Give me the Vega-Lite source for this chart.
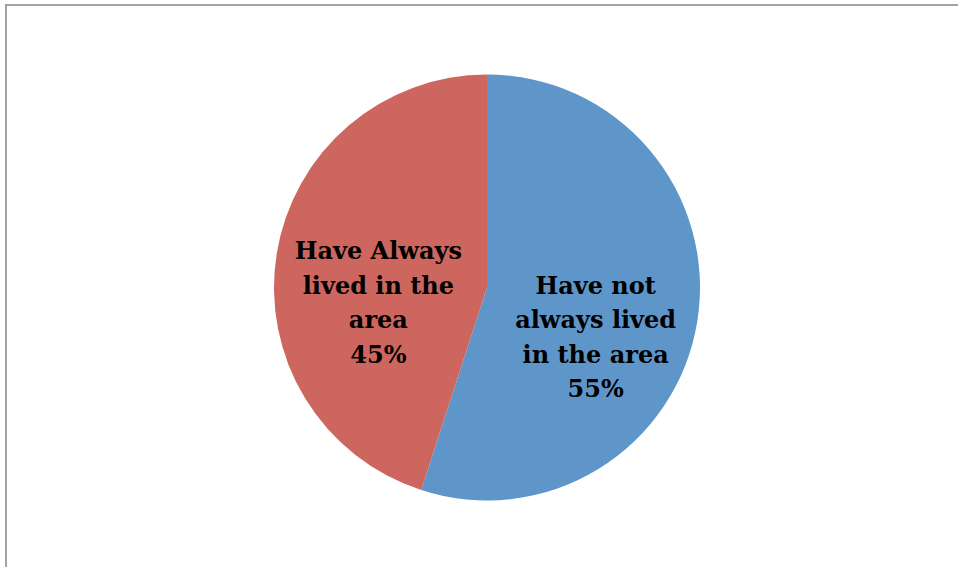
{
  "$schema": "https://vega.github.io/schema/vega-lite/v6.json",
  "width": 962,
  "height": 565,
  "autosize": {"type": "none"},
  "padding": {"left": 6, "top": 5, "right": 0, "bottom": 0},
  "background": "white",
  "config": {"view": {"stroke": null}},
  "data": {
    "values": [
      {"category": "Have not always lived in the area", "share": 55, "label": "Have not\nalways lived\nin the area\n55%"},
      {"category": "Have Always lived in the area", "share": 45, "label": "Have Always\nlived in the\narea\n45%"}
    ]
  },
  "layer": [
    {
      "data": {"values": [{"frame": 1}]},
      "mark": {"type": "rect", "fill": null, "stroke": "#a3a3a3", "strokeWidth": 2},
      "encoding": {}
    },
    {
      "mark": {"type": "arc", "outerRadius": 213},
      "encoding": {
        "theta": {"field": "share", "type": "quantitative", "stack": true},
        "order": {"field": "share", "type": "quantitative", "sort": "descending"},
        "color": {
          "field": "category",
          "type": "nominal",
          "scale": {"domain": ["Have not always lived in the area", "Have Always lived in the area"], "range": ["#5f96ca", "#cd665e"]},
          "legend": null
        }
      }
    },
    {
      "mark": {"type": "text", "radius": 110, "dy": -18, "font": "DejaVu Serif", "fontWeight": "bold", "fontSize": 24, "lineBreak": "\n", "lineHeight": 34.5, "align": "center", "baseline": "middle", "color": "#000000"},
      "encoding": {
        "theta": {"field": "share", "type": "quantitative", "stack": true},
        "order": {"field": "share", "type": "quantitative", "sort": "descending"},
        "text": {"field": "label", "type": "nominal"}
      }
    }
  ]
}
